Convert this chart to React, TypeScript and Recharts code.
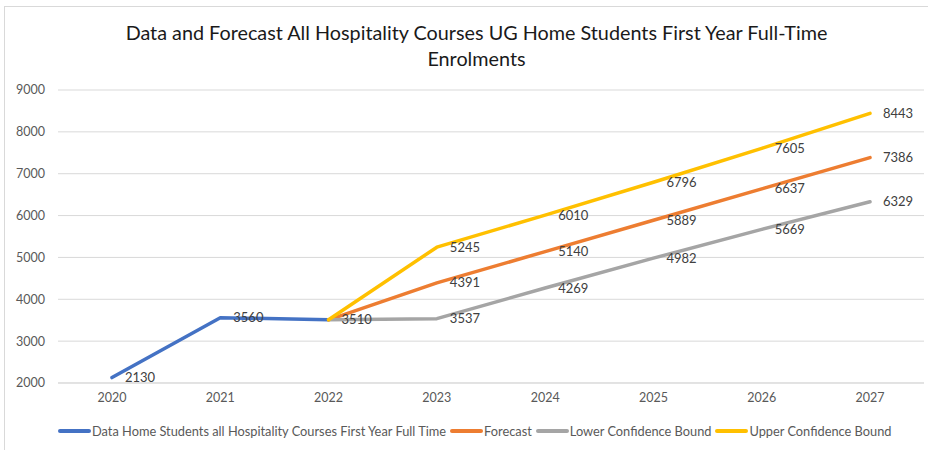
import { CartesianGrid, Line, LineChart, XAxis, YAxis } from "recharts";

const years = ["2020", "2021", "2022", "2023", "2024", "2025", "2026", "2027"];
const actual = [2130, 3560, 3510, null, null, null, null, null];
const forecast = [null, null, 3510, 4391, 5140, 5889, 6637, 7386];
const lowerBound = [null, null, 3510, 3537, 4269, 4982, 5669, 6329];
const upperBound = [null, null, 3510, 5245, 6010, 6796, 7605, 8443];
const yTicks = [2000, 3000, 4000, 5000, 6000, 7000, 8000, 9000];

const data = years.map((year, i) => ({
  year,
  actual: actual[i],
  forecast: forecast[i],
  lower: lowerBound[i],
  upper: upperBound[i],
}));

const FONT = "Lato, 'Liberation Sans', sans-serif";

const series = [
  { key: "actual", name: "Data Home Students all Hospitality Courses First Year Full Time", color: "#4472C4" },
  { key: "forecast", name: "Forecast", color: "#ED7D31" },
  { key: "lower", name: "Lower Confidence Bound", color: "#A5A5A5" },
  { key: "upper", name: "Upper Confidence Bound", color: "#FFC000" },
];

// skip the shared 2022 point on the forecast series, only the actual series labels it
function makeLabel(skipIndex: number | null) {
  return (props: any) => {
    const { x, y, value, index } = props;
    if (value == null || index === skipIndex) return null;
    return (
      <text
        key={`l-${index}`}
        x={x + 13}
        y={y}
        dy="0.35em"
        fill="#404040"
        fontSize={13}
        fontFamily={FONT}
      >
        {value}
      </text>
    );
  };
}

export default function App() {
  return (
    <div style={{ position: "absolute", left: 0, top: 0, width: 928, height: 450, overflow: "hidden", background: "#fff" }}>
      <div
        style={{
          position: "absolute",
          left: 4,
          top: 6,
          width: 945,
          height: 460,
          border: "1px solid #d9d9d9",
          boxSizing: "border-box",
        }}
      />
      <div
        style={{
          position: "absolute",
          left: 0,
          top: 19,
          width: 953,
          textAlign: "center",
          fontFamily: FONT,
          fontSize: 19.8,
          lineHeight: "26px",
          color: "#1a1a1a",
        }}
      >
        Data and Forecast All Hospitality Courses UG Home Students First Year Full-Time
        <br />
        Enrolments
      </div>
      <div style={{ position: "absolute", left: 0, top: 0 }}>
        <LineChart
          width={928}
          height={450}
          data={data}
          margin={{ top: 90, right: 4, bottom: 37, left: 8 }}
        >
          <CartesianGrid vertical={false} stroke="#d9d9d9" />
          <XAxis
            dataKey="year"
            padding={{ left: 54, right: 54 }}
            height={30}
            tickLine={false}
            axisLine={{ stroke: "#d9d9d9" }}
            tickSize={0}
            tickMargin={10}
            tick={{ fill: "#595959", fontSize: 12.5, fontFamily: FONT }}
          />
          <YAxis
            width={50}
            domain={[2000, 9000]}
            ticks={yTicks}
            axisLine={false}
            tickLine={false}
            tickSize={0}
            tickMargin={13}
            tick={{ fill: "#595959", fontSize: 12.5, fontFamily: FONT }}
          />
          {series.map((s) => (
            <Line
              key={s.key}
              dataKey={s.key}
              name={s.name}
              stroke={s.color}
              strokeWidth={3.5}
              strokeLinecap="round"
              strokeLinejoin="round"
              dot={false}
              activeDot={false}
              connectNulls={false}
              isAnimationActive={false}
              label={makeLabel(s.key === "actual" ? null : 2)}
            />
          ))}
        </LineChart>
      </div>
      <div
        style={{
          position: "absolute",
          left: 58,
          top: 423,
          display: "flex",
          alignItems: "center",
          fontFamily: FONT,
          fontSize: 12.8,
          color: "#595959",
          whiteSpace: "nowrap",
        }}
      >
        {series.map((s) => (
          <span key={s.key} style={{ display: "flex", alignItems: "center", marginRight: 4 }}>
            <span
              style={{
                display: "inline-block",
                width: 33,
                height: 4,
                borderRadius: 2,
                background: s.color,
                marginRight: 1,
              }}
            />
            {s.name}
          </span>
        ))}
      </div>
    </div>
  );
}
